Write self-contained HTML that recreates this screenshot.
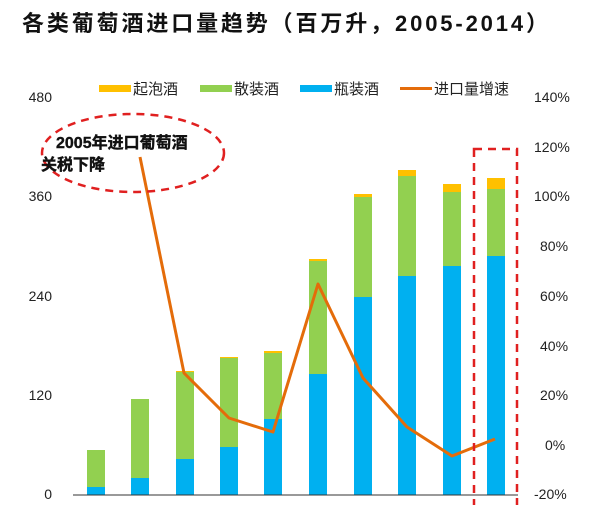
<!DOCTYPE html>
<html><head><meta charset="utf-8"><style>
body{margin:0;background:#fff;width:606px;height:505px;overflow:hidden}
svg text{font-family:"Liberation Sans","Noto Sans CJK SC",sans-serif}
</style></head><body>
<svg width="606" height="505" viewBox="0 0 606 505">
<text x="22" y="31" font-size="22" font-weight="bold" fill="#111" textLength="526" lengthAdjust="spacing">各类葡萄酒进口量趋势（百万升，2005-2014）</text>
<g font-size="14" fill="#222">
<text x="52" y="102" text-anchor="end">480</text>
<text x="52" y="201" text-anchor="end">360</text>
<text x="52" y="301" text-anchor="end">240</text>
<text x="52" y="400" text-anchor="end">120</text>
<text x="52" y="499" text-anchor="end">0</text>
<g text-anchor="start">
<text x="534" y="102">140%</text><text x="534" y="152">120%</text><text x="534" y="201">100%</text>
<text x="540" y="251">80%</text><text x="540" y="301">60%</text><text x="540" y="351">40%</text>
<text x="540" y="400">20%</text><text x="545" y="450">0%</text><text x="534" y="499">-20%</text></g>
</g>
<g font-size="15" fill="#222">
<rect x="99" y="85" width="32" height="7" fill="#FFC000"/><text x="133" y="94">起泡酒</text>
<rect x="200" y="85" width="32" height="7" fill="#92D050"/><text x="234" y="94">散装酒</text>
<rect x="300" y="85" width="32" height="7" fill="#00B0F0"/><text x="334" y="94">瓶装酒</text>
<rect x="400" y="87" width="32" height="3" fill="#E46C0A"/><text x="434" y="94">进口量增速</text>
</g>
<g>
<rect x="87" y="450" width="18" height="37" fill="#92D050"/><rect x="87" y="487" width="18" height="8" fill="#00B0F0"/>
<rect x="131" y="399" width="18" height="79" fill="#92D050"/><rect x="131" y="478" width="18" height="17" fill="#00B0F0"/>
<rect x="176" y="371" width="18" height="1" fill="#FFC000"/><rect x="176" y="372" width="18" height="87" fill="#92D050"/><rect x="176" y="459" width="18" height="36" fill="#00B0F0"/>
<rect x="220" y="357" width="18" height="1" fill="#FFC000"/><rect x="220" y="358" width="18" height="89" fill="#92D050"/><rect x="220" y="447" width="18" height="48" fill="#00B0F0"/>
<rect x="264" y="351" width="18" height="2" fill="#FFC000"/><rect x="264" y="353" width="18" height="66" fill="#92D050"/><rect x="264" y="419" width="18" height="76" fill="#00B0F0"/>
<rect x="309" y="259" width="18" height="2" fill="#FFC000"/><rect x="309" y="261" width="18" height="113" fill="#92D050"/><rect x="309" y="374" width="18" height="121" fill="#00B0F0"/>
<rect x="354" y="194" width="18" height="3" fill="#FFC000"/><rect x="354" y="197" width="18" height="100" fill="#92D050"/><rect x="354" y="297" width="18" height="198" fill="#00B0F0"/>
<rect x="398" y="170" width="18" height="6" fill="#FFC000"/><rect x="398" y="176" width="18" height="100" fill="#92D050"/><rect x="398" y="276" width="18" height="219" fill="#00B0F0"/>
<rect x="443" y="184" width="18" height="8" fill="#FFC000"/><rect x="443" y="192" width="18" height="74" fill="#92D050"/><rect x="443" y="266" width="18" height="229" fill="#00B0F0"/>
<rect x="487" y="178" width="18" height="11" fill="#FFC000"/><rect x="487" y="189" width="18" height="67" fill="#92D050"/><rect x="487" y="256" width="18" height="239" fill="#00B0F0"/>
</g>
<line x1="73" y1="495" x2="518" y2="495" stroke="#333" stroke-width="1"/>
<polyline points="140,157 184,373 229,418 273,432 318,284 363,378 407,427 452,456 495,439" fill="none" stroke="#E46C0A" stroke-width="3" stroke-linejoin="round"/>
<ellipse cx="133" cy="153" rx="91" ry="39" fill="none" stroke="#E02020" stroke-width="2.5" stroke-dasharray="8,6"/>
<text x="56" y="148" font-size="16" font-weight="bold" fill="#111" stroke="#111" stroke-width="0.4">2005年进口葡萄酒</text>
<text x="41" y="170" font-size="16" font-weight="bold" fill="#111" stroke="#111" stroke-width="0.4">关税下降</text>
<rect x="474" y="149" width="43" height="360" fill="none" stroke="#E02020" stroke-width="2.5" stroke-dasharray="8,6"/>
</svg>
</body></html>
